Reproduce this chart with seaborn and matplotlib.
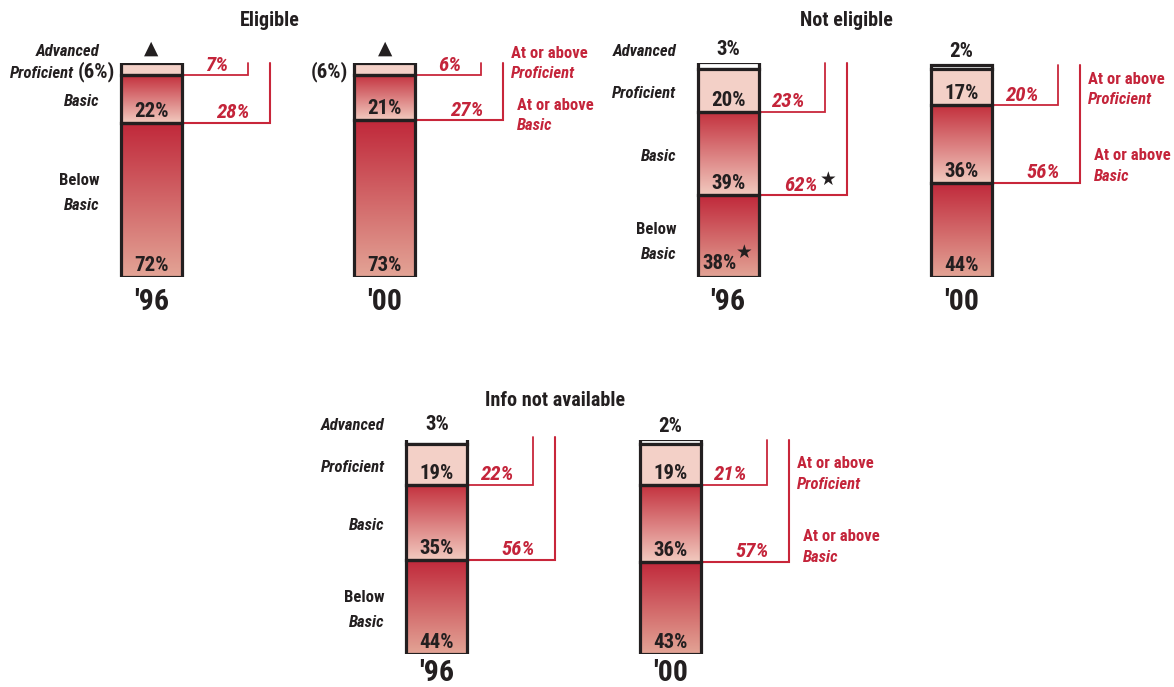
import numpy as np
import pandas as pd
import matplotlib
matplotlib.use("Agg")
import matplotlib.pyplot as plt
from matplotlib import font_manager
from matplotlib.colors import LinearSegmentedColormap
import seaborn as sns

# ---------------------------------------------------------------- data
years = ["'96", "'00"]

eligible_adv_prof = [6, 6]
eligible_basic = [22, 21]
eligible_below = [72, 73]
eligible_at_prof = [7, 6]
eligible_at_basic = [28, 27]

not_eligible_adv = [3, 2]
not_eligible_prof = [20, 17]
not_eligible_basic = [39, 36]
not_eligible_below = [38, 44]
not_eligible_at_prof = [23, 20]
not_eligible_at_basic = [62, 56]
not_eligible_signif_at_basic = [True, False]
not_eligible_signif_below = [True, False]

info_na_adv = [3, 2]
info_na_prof = [19, 19]
info_na_basic = [35, 36]
info_na_below = [44, 43]
info_na_at_prof = [22, 21]
info_na_at_basic = [56, 57]

group_titles = ["Eligible", "Not eligible", "Info not available"]

# ---------------------------------------------------------------- style
sns.set_theme(style="white")
_names = {f.name for f in font_manager.fontManager.ttflist}
_narrow = [n for n in ("Liberation Sans Narrow", "Roboto Condensed",
                       "Noto Sans Condensed", "Open Sans Condensed",
                       "Noto Sans Display Condensed") if n in _names]
if _narrow:
    plt.rcParams["font.family"] = [_narrow[0], "DejaVu Sans"]
    STRETCH = "normal"
    FS = 1.0
else:
    plt.rcParams["font.family"] = ["DejaVu Sans"]
    STRETCH = "condensed"
    FS = 0.82

INK = "#231f20"
PINK = "#f3d0c7"
BASIC_TOP = "#c3303d"
BASIC_BOTTOM = "#f2cabf"
BELOW_TOP = "#c0283a"
BELOW_BOTTOM = "#e3a496"
LINE_RED = "#c8263a"
TEXT_RED = "#c4243a"

PX = 0.72          # points per pixel at 100 dpi
BAR_W = 0.261
BAR_LW = 2.3
BRACKET_1 = 0.283  # distance of inner bracket from bar edge (data units)
BRACKET_2 = 0.377

SOLID = {"adv": "white", "advprof": PINK, "prof": PINK,
         "basic": BASIC_TOP, "below": BELOW_TOP}
GRADIENT = {"basic": (BASIC_TOP, BASIC_BOTTOM), "below": (BELOW_TOP, BELOW_BOTTOM)}


def put(ax, x, y, s, dx=0.0, dy=0.0, size=12, **kw):
    kw.setdefault("fontstretch", STRETCH)
    kw.setdefault("fontweight", "bold")
    kw.setdefault("color", INK)
    ax.annotate(s, xy=(x, y), xytext=(dx * PX, dy * PX), textcoords="offset points",
                annotation_clip=False, size=size * FS, **kw)


def shade(ax, patch, top, bottom):
    x0, y0 = patch.get_x(), patch.get_y()
    w, h = patch.get_width(), patch.get_height()
    cmap = LinearSegmentedColormap.from_list("ramp", [bottom, top])
    ramp = np.linspace(0, 1, 256).reshape(-1, 1)
    im = ax.imshow(ramp, cmap=cmap, origin="lower", extent=(x0, x0 + w, y0, y0 + h),
                   aspect="auto", interpolation="bilinear", zorder=2)
    im.set_clip_path(patch)
    patch.set_facecolor("none")


def draw_group(ax, segments, at_prof, at_basic, title, title_dy, drops, below_shift,
               year_dy, signif_at_basic=None, signif_below=None):
    n = len(years)
    xs = np.arange(n)
    bottoms = {}
    running = np.zeros(n)
    for kind, vals in reversed(segments):
        bottoms[kind] = running.copy()
        running = running + np.asarray(vals, float)
    totals = running

    for kind, vals in segments:
        df = pd.DataFrame({"year": years, "pct": vals})
        sns.barplot(data=df, x="year", y="pct", order=years, bottom=bottoms[kind],
                    width=BAR_W, color=SOLID[kind], saturation=1, errorbar=None,
                    edgecolor=INK, linewidth=BAR_LW, zorder=3, ax=ax)
        for patch in ax.containers[-1]:
            patch.set_joinstyle("miter")
            if kind in GRADIENT:
                shade(ax, patch, *GRADIENT[kind])

    line_prof = bottoms["advprof"] if "advprof" in bottoms else bottoms["prof"]
    line_basic = bottoms["basic"]

    for i in range(n):
        xc = xs[i]
        left = xc - BAR_W / 2
        right = xc + BAR_W / 2
        top = totals[i]

        # segment values
        for kind, vals in segments:
            b = bottoms[kind][i]
            v = vals[i]
            if kind == "adv":
                put(ax, xc, top, f"{v}%", dy=7.5, ha="center", va="baseline", size=15)
            elif kind == "advprof":
                put(ax, left, b + v / 2, f"({v}%)", dx=-6, dy=-9, ha="right",
                    va="baseline", size=15)
                put(ax, xc, top, "\u25B2", dy=8.5, ha="center", va="baseline", size=13.4,
                    family="DejaVu Sans", fontstretch="normal")
            elif kind == "below" and signif_below is not None and signif_below[i]:
                put(ax, xc, b, f"{v}%", dx=9, dy=8, ha="right", va="baseline", size=15)
                put(ax, xc, b, "\u2605", dx=16, dy=24.5, ha="center", va="center",
                    size=13.4, family="DejaVu Sans", fontstretch="normal")
            else:
                put(ax, xc, b, f"{v}%", dy=6, ha="center", va="baseline", size=15)

        # level names on the left of the first bar
        if i == 0:
            for kind, vals in segments:
                b = bottoms[kind][i]
                mid = b + vals[i] / 2
                if kind == "adv":
                    put(ax, left, top, "Advanced", dx=-21.5, dy=7, ha="right",
                        va="baseline", style="italic")
                elif kind == "advprof":
                    put(ax, left, top, "Advanced", dx=-21.5, dy=6, ha="right",
                        va="baseline", style="italic")
                    put(ax, left, mid, "Proficient", dx=-47, dy=-9, ha="right",
                        va="baseline", style="italic")
                elif kind == "prof":
                    put(ax, left, mid, "Proficient", dx=-21.5, dy=-7.5, ha="right",
                        va="baseline", style="italic")
                elif kind == "basic":
                    put(ax, left, mid, "Basic", dx=-21.5, dy=-7.5, ha="right",
                        va="baseline", style="italic")
                elif kind == "below":
                    put(ax, left, mid, "Below", dx=-21.5, dy=7 + below_shift,
                        ha="right", va="baseline")
                    put(ax, left, mid, "Basic", dx=-21.5, dy=-18 + below_shift,
                        ha="right", va="baseline", style="italic")

        # at-or-above brackets
        v1 = right + BRACKET_1
        v2 = right + BRACKET_2
        y1 = line_prof[i]
        y2 = line_basic[i]
        ax.plot([right, v1, v1], [y1, y1, top], color=LINE_RED, lw=1.3,
                solid_joinstyle="miter", clip_on=False, zorder=1)
        ax.plot([right, v2, v2], [y2, y2, top], color=LINE_RED, lw=1.5,
                solid_joinstyle="miter", clip_on=False, zorder=1)
        put(ax, v1, y1, f"{at_prof[i]}%", dx=-20, dy=4.5, ha="right", va="baseline",
            size=15, style="italic", color=TEXT_RED)
        if signif_at_basic is not None and signif_at_basic[i]:
            put(ax, v2, y2, f"{at_basic[i]}%", dx=-29, dy=4.5, ha="right",
                va="baseline", size=15, style="italic", color=TEXT_RED)
            put(ax, v2, y2, "\u2605", dx=-18, dy=16, ha="center", va="center",
                size=13.4, family="DejaVu Sans", fontstretch="normal")
        else:
            put(ax, v2, y2, f"{at_basic[i]}%", dx=-20, dy=4.5, ha="right",
                va="baseline", size=15, style="italic", color=TEXT_RED)

        # explanatory labels beside the last bar
        if i == n - 1:
            d1, d2 = drops
            put(ax, v2, y1, "At or above", dx=8, dy=-d1 + 20.5, ha="left",
                va="baseline", color=TEXT_RED)
            put(ax, v2, y1, "Proficient", dx=8, dy=-d1, ha="left",
                va="baseline", style="italic", color=TEXT_RED)
            put(ax, v2, y2, "At or above", dx=14, dy=-d2 + 20.5, ha="left",
                va="baseline", color=TEXT_RED)
            put(ax, v2, y2, "Basic", dx=14, dy=-d2, ha="left",
                va="baseline", style="italic", color=TEXT_RED)

        # year
        put(ax, xc, 0, years[i], dy=year_dy, ha="center", va="baseline", size=21.5)

    put(ax, 0.5, 100, title, dx=2, dy=title_dy, ha="center", va="baseline", size=14.5)

    ax.set_xlim(-0.5, 1.5)
    ax.set_ylim(0, 100)
    ax.axis("off")


# ---------------------------------------------------------------- figure
W, H = 1174, 687
fig = plt.figure(figsize=(W / 100, H / 100), dpi=100)
fig.patch.set_facecolor("white")


def axes_at(left_px, bottom_px):
    return fig.add_axes([left_px / W, (H - bottom_px) / H, 467 / W, 214.5 / H])


ax_el = axes_at(34.5, 277)
ax_ne = axes_at(611.3, 277)
ax_na = axes_at(320.0, 654)

draw_group(ax_el,
           [("advprof", eligible_adv_prof), ("basic", eligible_basic),
            ("below", eligible_below)],
           eligible_at_prof, eligible_at_basic, group_titles[0], 37, (3, 10), 8, -33)

draw_group(ax_ne,
           [("adv", not_eligible_adv), ("prof", not_eligible_prof),
            ("basic", not_eligible_basic), ("below", not_eligible_below)],
           not_eligible_at_prof, not_eligible_at_basic, group_titles[1], 37, (-1, -2),
           -5, -33,
           signif_at_basic=not_eligible_signif_at_basic,
           signif_below=not_eligible_signif_below)

draw_group(ax_na,
           [("adv", info_na_adv), ("prof", info_na_prof),
            ("basic", info_na_basic), ("below", info_na_below)],
           info_na_at_prof, info_na_at_basic, group_titles[2], 33, (4, 0), -2, -27)

fig.savefig("out.png", dpi=100, facecolor="white")
